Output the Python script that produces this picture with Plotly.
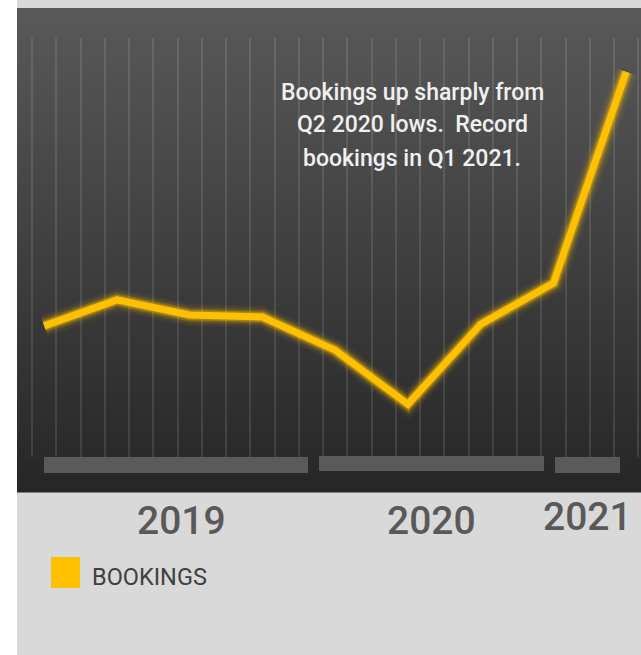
import plotly.graph_objects as go

# ---- data ----
months = [f"{m} {y}" for y in (2019, 2020) for m in
          ["Jan", "Feb", "Mar", "Apr", "May", "Jun", "Jul", "Aug", "Sep", "Oct", "Nov", "Dec"]] + ["Jan 2021"]
quarters = ["Jan 2019", "Apr 2019", "Jul 2019", "Oct 2019",
            "Jan 2020", "Apr 2020", "Jul 2020", "Oct 2020", "Jan 2021"]
bookings = [31.3, 37.5, 33.9, 33.4, 25.5, 12.6, 31.7, 41.5, 91.9]
years = ["2019", "2020", "2021"]
series_name = "BOOKINGS"
note_lines = ["Bookings up sharply from", "Q2 2020 lows.  Record", "bookings in Q1 2021."]

# ---- geometry helpers (page pixels -> paper) ----
W, H = 641, 655
L, R, T, B = 17, 641, 38, 457
def px(x):
    return (x - L) / (R - L)
def py(y):
    return (B - y) / (B - T)

FONT = "Roboto, Liberation Sans, sans-serif"
GOLD = "#FFC000"

fig = go.Figure()
# register all month categories
fig.add_trace(go.Scatter(x=months, y=[None] * len(months), mode="lines",
                         showlegend=False, hoverinfo="skip"))
# glow layers
for w, op in [(22, 0.05), (17, 0.1), (13, 0.2), (10, 0.35)]:
    fig.add_trace(go.Scatter(x=quarters, y=bookings, mode="lines",
                             line=dict(color=GOLD, width=w), opacity=op,
                             showlegend=False, hoverinfo="skip"))
fig.add_trace(go.Scatter(x=quarters, y=bookings, mode="lines", name=series_name,
                         line=dict(color=GOLD, width=7), showlegend=False))

shapes = []
# light gray panel
shapes.append(dict(type="rect", xref="paper", yref="paper", x0=0, x1=1,
                   y0=py(H), y1=py(0), fillcolor="#d9d9d9", line_width=0, layer="below"))
# dark gradient background
top, bot = 8, 492
n = 121
c0, c1 = (89, 89, 89), (38, 38, 38)
step = (bot - top) / n
for i in range(n):
    t = (i + 0.5) / n
    c = tuple(round(a + (b - a) * t) for a, b in zip(c0, c1))
    y0 = top + i * step
    shapes.append(dict(type="rect", xref="paper", yref="paper", x0=0, x1=1,
                       y0=py(y0 + step + 0.6), y1=py(y0), fillcolor=f"rgb{c}",
                       line_width=0, layer="below"))
# year bars
for x0, x1, y0, y1 in [(44, 308, 457, 473), (319, 544, 456, 471), (555, 620, 457, 473)]:
    shapes.append(dict(type="rect", xref="paper", yref="paper", x0=px(x0), x1=px(x1),
                       y0=py(y1), y1=py(y0), fillcolor="#5a5a5a", line_width=0, layer="above"))
# legend swatch
shapes.append(dict(type="rect", xref="paper", yref="paper", x0=px(51), x1=px(80),
                   y0=py(588), y1=py(557), fillcolor=GOLD, line_width=0))

annotations = []
for label, cx, cy in zip(years, [181, 431, 587], [521, 521, 517]):
    annotations.append(dict(text=label, xref="paper", yref="paper", x=px(cx), y=py(cy),
                            showarrow=False, xanchor="center", yanchor="middle",
                            font=dict(family=FONT, size=39, color="#595959", weight=500)))
annotations.append(dict(text=series_name, xref="paper", yref="paper", x=px(90), y=py(577),
                        showarrow=False, xanchor="left", yanchor="middle",
                        font=dict(family=FONT, size=23.5, color="#404040")))
for line, cy in zip(note_lines, [92, 125, 158]):
    annotations.append(dict(text=line, xref="paper", yref="paper", x=px(412), y=py(cy),
                            showarrow=False, xanchor="center", yanchor="middle",
                            font=dict(family=FONT, size=23, color="#f0f0f0", weight=500)))

fig.update_layout(
    width=W, height=H,
    margin=dict(l=L, r=W - R, t=T, b=H - B, pad=0),
    paper_bgcolor="white", plot_bgcolor="rgba(0,0,0,0)",
    shapes=shapes, annotations=annotations, showlegend=False,
    xaxis=dict(type="category", categoryorder="array", categoryarray=months,
               range=[-1.12, 24.61], tickson="boundaries", showgrid=True,
               gridcolor="rgba(255,255,255,0.11)", gridwidth=2,
               showticklabels=False, ticks="", showline=False, zeroline=False,
               fixedrange=True),
    yaxis=dict(range=[0, 100], showgrid=False, showticklabels=False, ticks="",
               zeroline=False, showline=False, fixedrange=True),
)

fig.write_html("out.html")
